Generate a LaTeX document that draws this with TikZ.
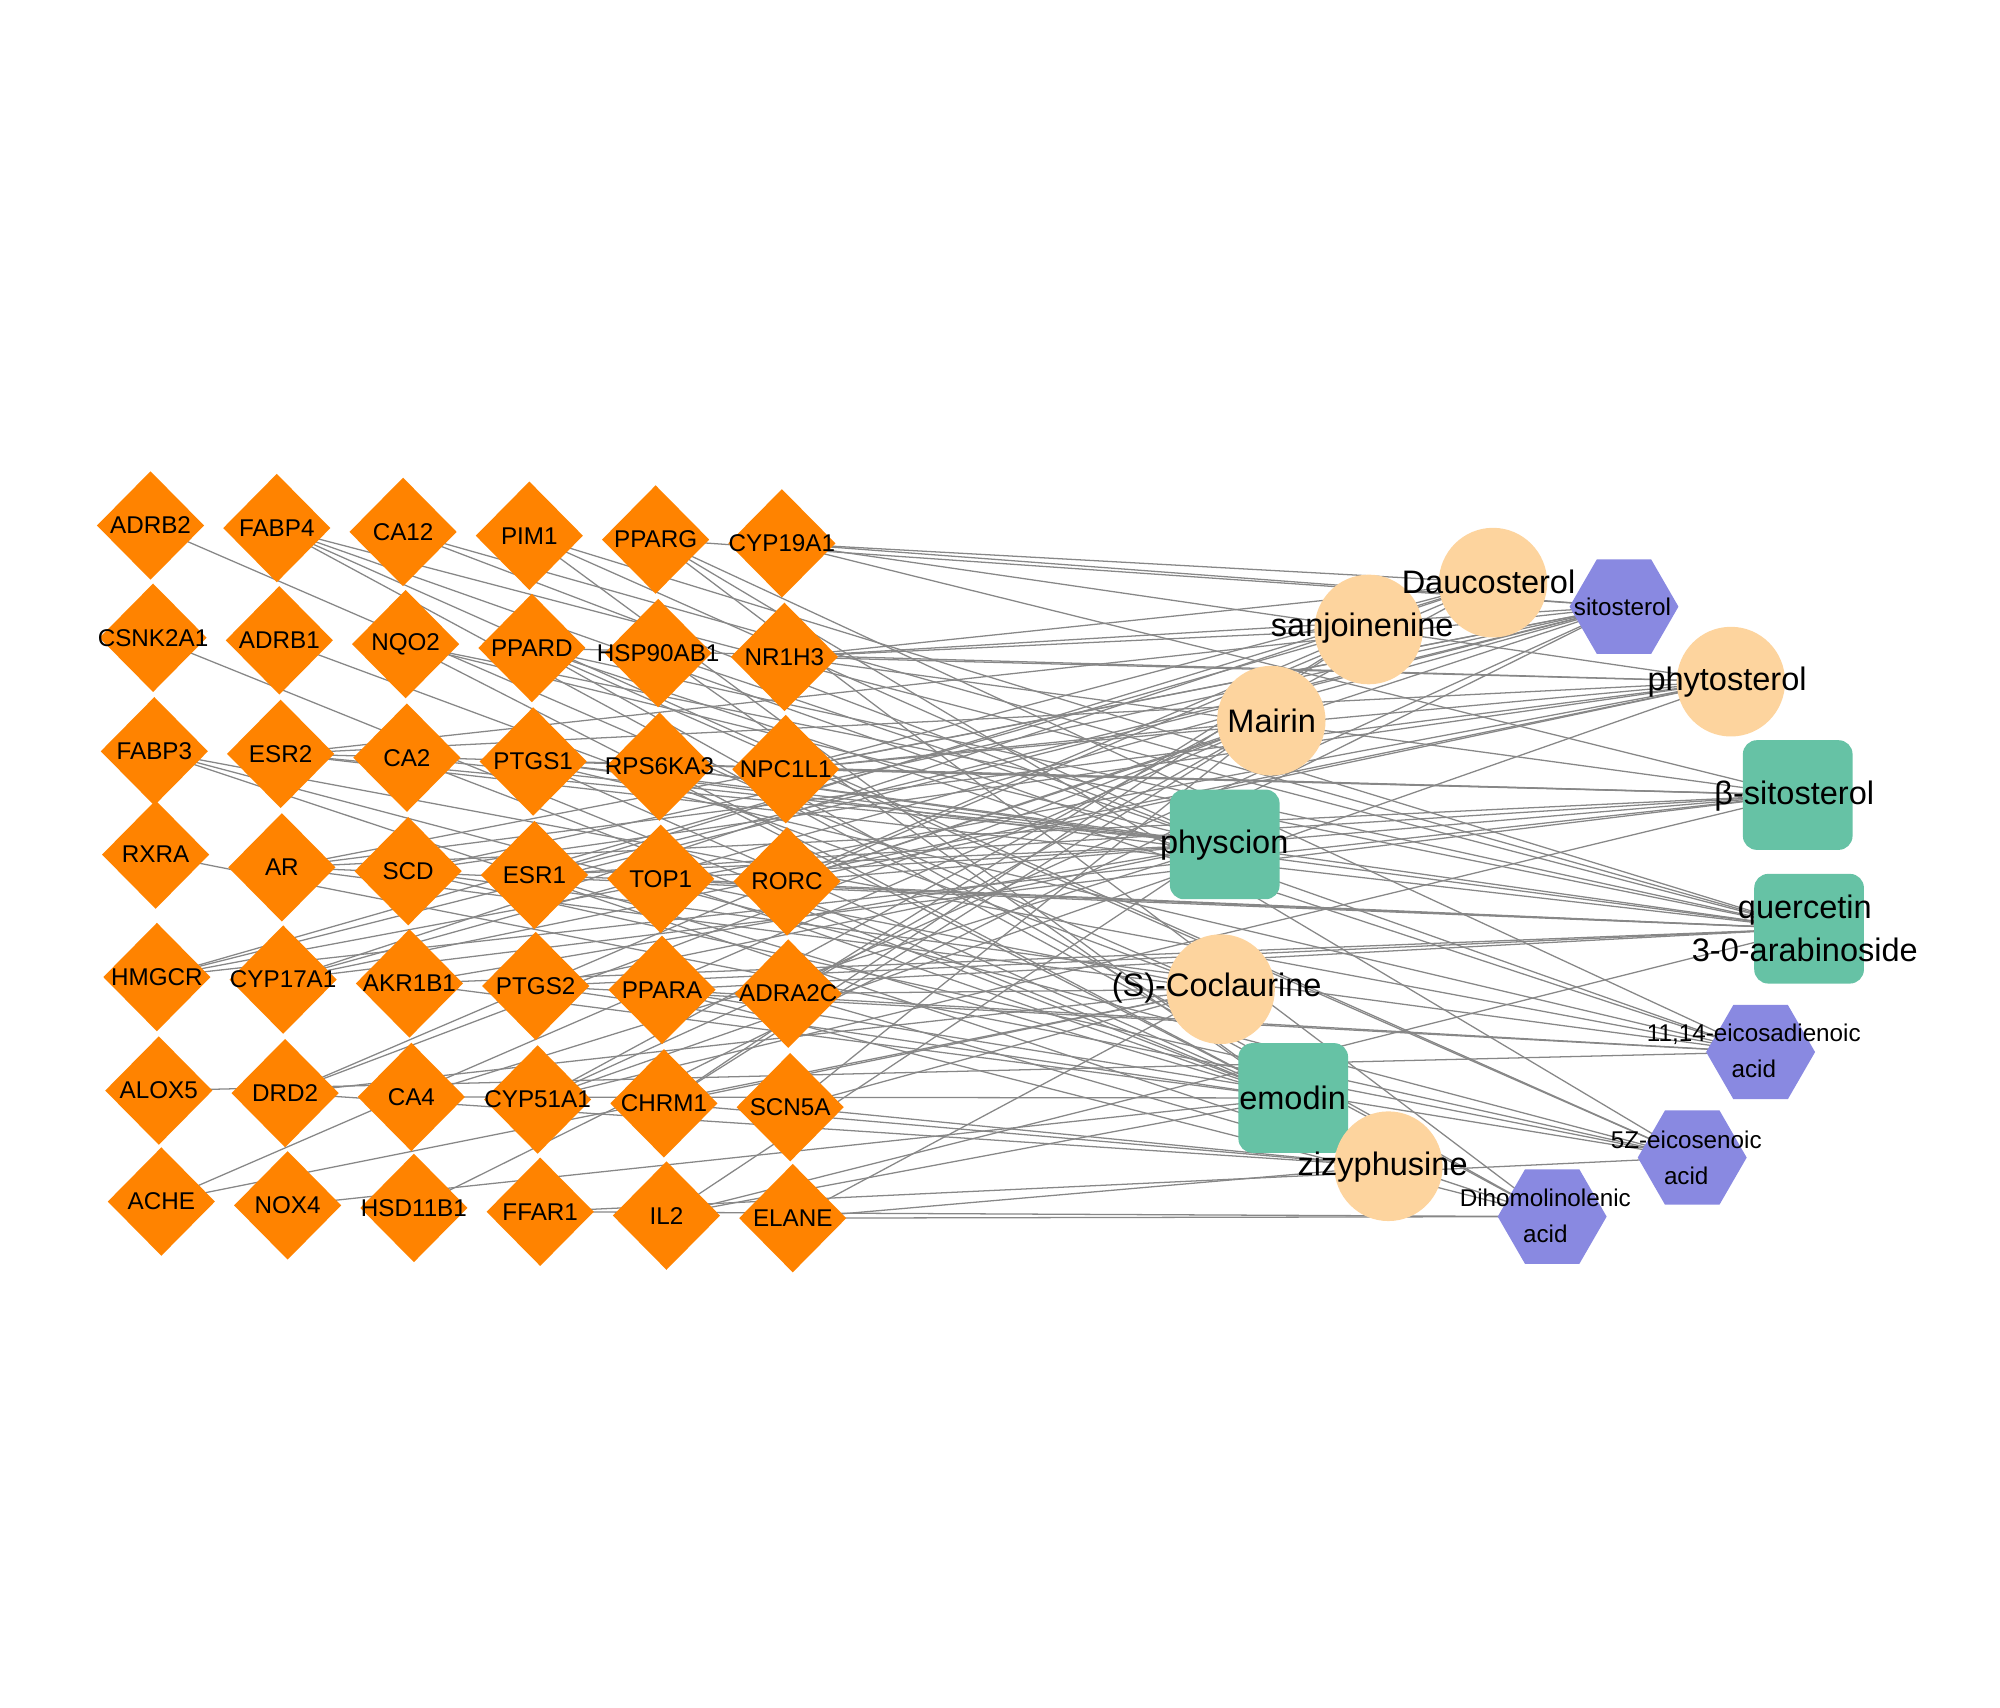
\documentclass[tikz,border=0pt]{standalone}
\usepackage{fontspec}
\setmainfont{Liberation Sans}
\usetikzlibrary{shapes.geometric,backgrounds}
\definecolor{tgt}{RGB}{255,131,0}
\definecolor{peach}{RGB}{253,212,158}
\definecolor{grn}{RGB}{102,194,165}
\definecolor{vio}{RGB}{137,137,225}
\definecolor{edgec}{RGB}{135,135,135}
\begin{document}
\begin{tikzpicture}[x=1pt,y=-1pt,
  tnode/.style={diamond,fill=tgt,minimum width=84pt,minimum height=85pt,inner sep=0pt,outer sep=0pt},
  tlab/.style={font=\fontsize{19}{22}\selectfont,inner sep=0pt},
  cnode/.style={ellipse,fill=peach,minimum width=85pt,minimum height=86pt,inner sep=0pt},
  snode/.style={rectangle,rounded corners=11pt,fill=grn,minimum width=86pt,minimum height=86pt,inner sep=0pt},
  hnode/.style={regular polygon,regular polygon sides=6,fill=vio,minimum size=85.4pt,inner sep=0pt},
  blab/.style={font=\fontsize{25.5}{34}\selectfont,inner sep=0pt,align=center},
  slab/.style={font=\fontsize{19}{28}\selectfont,inner sep=0pt,align=center},
  edge/.style={draw=edgec,line width=1pt}]
\useasboundingbox (0,0) rectangle (1568,1339);
% targets
\foreach \n/\x/\y in {
  ADRB2/118/412, FABP4/217/414, CA12/316/417, PIM1/415/420, PPARG/514/423, CYP19A1/613/426,
  CSNK2A1/120/500, ADRB1/219/502, NQO2/318/505, PPARD/417/508, HSP90AB1/516/512, NR1H3/615/515,
  FABP3/121/589, ESR2/220/591, CA2/319/594, PTGS1/418/597, RPS6KA3/517/601, NPC1L1/616/603,
  RXRA/122/670, AR/221/680, SCD/320/683, ESR1/419/686, TOP1/518/689, RORC/617/691,
  HMGCR/123/766, CYP17A1/222/768, AKR1B1/321/771, PTGS2/420/773, PPARA/519/776, ADRA2C/618/779,
  ALOX5/124.5/855, DRD2/223.5/857, CA4/322.5/860, CYP51A1/421.5/862, CHRM1/520.5/865, SCN5A/619.5/868,
  ACHE/126.5/942, NOX4/225.5/945, HSD11B1/324.5/947, FFAR1/423.5/950, IL2/522.5/953, ELANE/621.5/955}
  \node[tnode,label={[tlab]center:\n}] (\n) at (\x,\y) {};
% compounds
\node[cnode] (Dau) at (1170.5,456.8) {};
\node[hnode] (Sit) at (1273.2,475.6) {};
\node[cnode] (San) at (1073,493.5) {};
\node[cnode] (Phy) at (1357,534.4) {};
\node[cnode] (Mai) at (996.7,565) {};
\node[snode] (Bsi) at (1409.4,623.3) {};
\node[snode] (Phc) at (960.2,662) {};
\node[snode] (Que) at (1418.3,728.1) {};
\node[cnode] (Coc) at (957,775.5) {};
\node[hnode] (Eic) at (1380.3,824.8) {};
\node[snode] (Emo) at (1013.9,860.8) {};
\node[cnode] (Ziz) at (1088.5,914.3) {};
\node[hnode] (Fze) at (1326.7,907.5) {};
\node[hnode] (Dih) at (1216.9,953.8) {};
% compound labels
\node[blab] (DauL) at (1167,456) {Daucosterol};
\node[slab] (SitL) at (1272,475.6) {sitosterol};
\node[blab] (SanL) at (1068,492.5) {sanjoinenine};
\node[blab] (PhyL) at (1354,534.5) {phytosterol};
\node[blab] (MaiL) at (997,565) {Mairin};
\node[blab] (BsiL) at (1406.7,624) {β-sitosterol};
\node[blab] (PhcL) at (959.8,662.5) {physcion};
\node[blab] (QueL) at (1415,728) {quercetin\\3-0-arabinoside};
\node[blab] (CocL) at (953.9,775) {(S)-Coclaurine};
\node[slab] (EicL) at (1375,824) {11,14-eicosadienoic\\acid};
\node[blab] (EmoL) at (1013.4,861) {emodin};
\node[blab] (ZizL) at (1084,914.7) {zizyphusine};
\node[slab] (FzeL) at (1322,907.5) {5Z-eicosenoic\\acid};
\node[slab] (DihL) at (1211.5,953) {Dihomolinolenic\\acid};
% edges
\begin{scope}[on background layer]
\foreach \a/\b in {
  ADRB2/Coc,
  FABP4/Eic, FABP4/Fze, FABP4/Dih, FABP4/Que,
  CA12/Phc, CA12/Que,
  PIM1/Emo, PIM1/Que, PIM1/Phc,
  PPARG/Eic, PPARG/Fze, PPARG/Dih, PPARG/Sit,
  CYP19A1/Dau, CYP19A1/Sit, CYP19A1/Phy, CYP19A1/Bsi,
  CSNK2A1/Emo,
  ADRB1/Coc,
  NQO2/Phc, NQO2/Emo, NQO2/Que,
  PPARD/Eic, PPARD/Fze, PPARD/Dih, PPARD/Que, PPARD/Phy,
  HSP90AB1/Phc, HSP90AB1/Emo,
  NR1H3/Sit, NR1H3/Phy, NR1H3/Bsi, NR1H3/Dau, NR1H3/San,
  FABP3/Eic, FABP3/Fze, FABP3/Dih,
  ESR2/Bsi, ESR2/Phy, ESR2/Sit, ESR2/Que, ESR2/Phc,
  CA2/Phc, CA2/Emo,
  PTGS1/Phc, PTGS1/Emo, PTGS1/Que, PTGS1/Bsi, PTGS1/Eic,
  RPS6KA3/Phc, RPS6KA3/Emo, RPS6KA3/Que,
  NPC1L1/Sit, NPC1L1/Phy, NPC1L1/Bsi, NPC1L1/Dau, NPC1L1/Mai,
  RXRA/Fze,
  AR/Sit, AR/Phy, AR/Bsi, AR/Que, AR/Coc,
  SCD/Sit, SCD/Eic, SCD/Fze, SCD/Phy,
  ESR1/Bsi, ESR1/Phc, ESR1/Emo, ESR1/Que, ESR1/Sit, ESR1/Dau,
  TOP1/Phc, TOP1/Emo, TOP1/Que, TOP1/Coc,
  RORC/Sit, RORC/Phy, RORC/Bsi, RORC/Dau, RORC/Mai,
  HMGCR/Sit, HMGCR/Phy, HMGCR/Bsi, HMGCR/San,
  CYP17A1/Sit, CYP17A1/Phy, CYP17A1/Bsi, CYP17A1/Dau,
  AKR1B1/Phc, AKR1B1/Emo, AKR1B1/Que,
  PTGS2/Emo, PTGS2/Que, PTGS2/Phc, PTGS2/Eic,
  PPARA/Eic, PPARA/Fze, PPARA/Dih, PPARA/Que,
  ADRA2C/Mai, ADRA2C/Coc, ADRA2C/San, ADRA2C/Ziz,
  ALOX5/Eic,
  DRD2/Coc, DRD2/Mai, DRD2/Ziz, DRD2/San,
  CA4/Phc, CA4/Emo,
  CYP51A1/Sit, CYP51A1/Phy, CYP51A1/Bsi, CYP51A1/Dau,
  CHRM1/San, CHRM1/Mai, CHRM1/Coc, CHRM1/Ziz,
  SCN5A/Coc, SCN5A/Ziz, SCN5A/Mai,
  ACHE/Coc, ACHE/Mai,
  NOX4/Emo,
  HSD11B1/Sit,
  FFAR1/Dih, FFAR1/Fze,
  IL2/Phc, IL2/Emo, IL2/Que,
  ELANE/Dih, ELANE/Ziz, ELANE/Coc}
  \draw[edge] (\a.center) -- (\b.center);
\end{scope}
\end{tikzpicture}
\end{document}
